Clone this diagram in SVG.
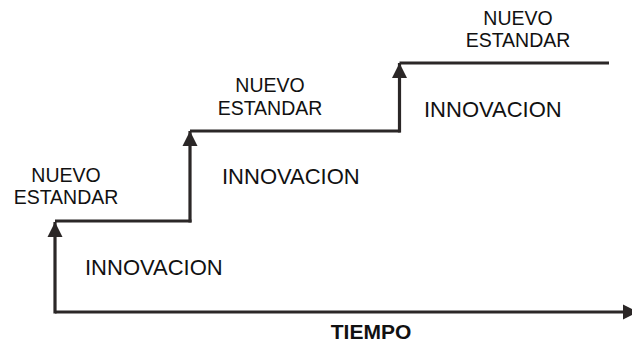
<svg xmlns="http://www.w3.org/2000/svg" width="632" height="346" viewBox="0 0 632 346">
<style>
.ln{fill:none;stroke:#2b2727;stroke-width:3.2;stroke-linecap:butt;stroke-linejoin:miter}
.std{font-family:"Liberation Sans",Arial,sans-serif;font-size:19.5px;fill:#111;text-anchor:middle}
.inn{font-family:"Liberation Sans",Arial,sans-serif;font-size:22px;fill:#111}
.ax{font-family:"Liberation Sans",Arial,sans-serif;font-size:21px;font-weight:bold;fill:#111;text-anchor:middle}
</style>
<defs>
<marker id="ah" markerUnits="userSpaceOnUse" markerWidth="16" markerHeight="16" viewBox="0 0 16 16" refX="15" refY="8" orient="auto">
<path d="M0,0.5 L15,8 L0,15.5 Z" fill="#2b2727"/>
</marker>
</defs>
<rect width="632" height="346" fill="#fff"/>
<g id="connectors">
<line class="ln" x1="55" y1="312" x2="638" y2="312" marker-end="url(#ah)"/>
<line class="ln" x1="55" y1="313.5" x2="55" y2="222" marker-end="url(#ah)"/>
<line class="ln" x1="55" y1="221" x2="191.5" y2="221"/>
<line class="ln" x1="190" y1="222.5" x2="190" y2="131" marker-end="url(#ah)"/>
<line class="ln" x1="190" y1="131" x2="400.5" y2="131"/>
<line class="ln" x1="399.5" y1="132.5" x2="399.5" y2="63" marker-end="url(#ah)"/>
<line class="ln" x1="399.5" y1="63" x2="609" y2="63"/>
</g>
<g id="estandar1"><text class="std" x="66" y="182">NUEVO</text><text class="std" x="66" y="204">ESTANDAR</text></g>
<g id="estandar2"><text class="std" x="270" y="92">NUEVO</text><text class="std" x="270" y="115">ESTANDAR</text></g>
<g id="estandar3"><text class="std" x="518" y="25">NUEVO</text><text class="std" x="518" y="46.5">ESTANDAR</text></g>
<g id="innovacion1"><text class="inn" x="85" y="275">INNOVACION</text></g>
<g id="innovacion2"><text class="inn" x="222" y="184">INNOVACION</text></g>
<g id="innovacion3"><text class="inn" x="424" y="117">INNOVACION</text></g>
<g id="tiempo"><text class="ax" x="371" y="338.5">TIEMPO</text></g>
</svg>
